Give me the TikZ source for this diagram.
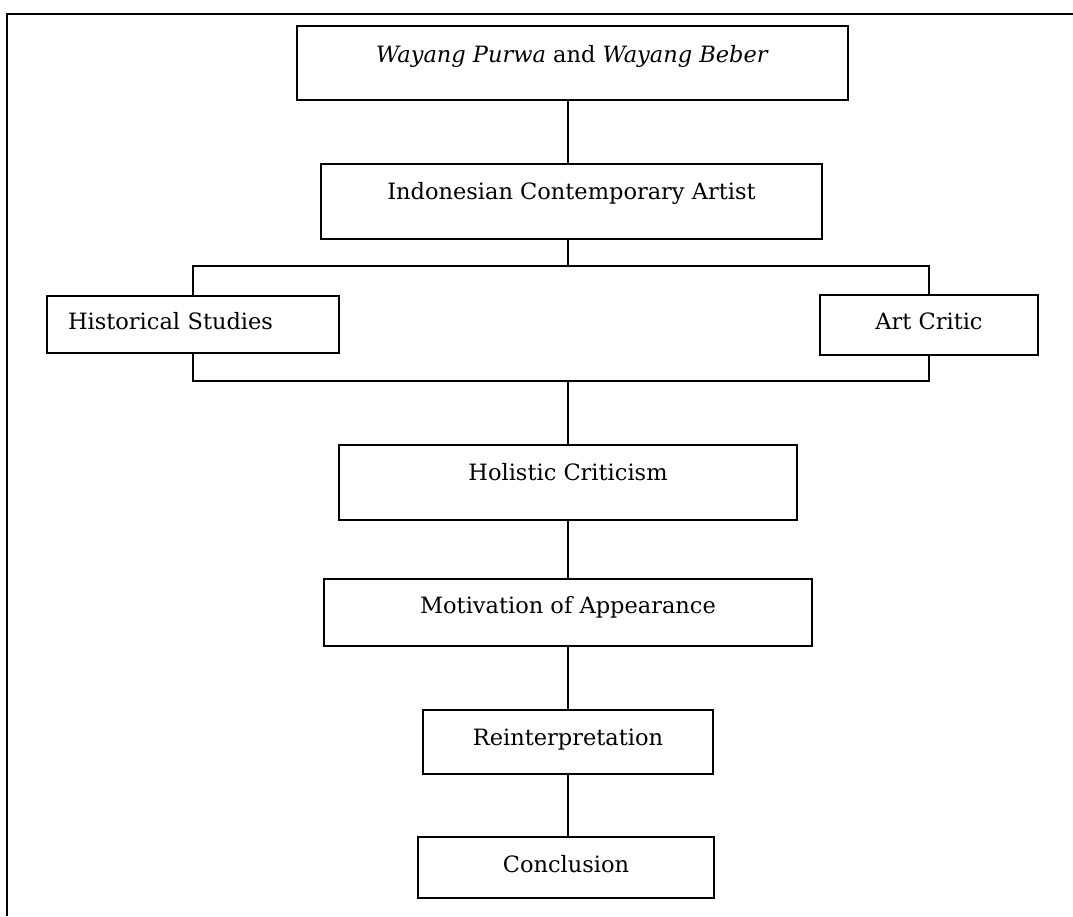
\documentclass[tikz,border=0pt]{standalone}
\usepackage{fontspec}
\setmainfont{DejaVu Serif}

\begin{document}
\begin{tikzpicture}[
  x=1pt, y=-1pt,
  stage/.style={rectangle, draw=black, line width=2.6pt, inner ysep=0pt, text height=16.4pt, font=\fontsize{22.5pt}{27pt}\selectfont},
  link/.style={draw=black, line width=2.3pt},
  frame/.style={draw=black, line width=2.6pt}
]
\useasboundingbox (0,0) rectangle (1073,916);

% Outer frame (top and left edge only)
\draw[frame] (1073,14) -- (7,14) -- (7,916);

% Main column
\node[stage, minimum width=551pt, minimum height=74pt, text depth=17.4pt] (wayang) at (572.5,63) {\textit{Wayang Purwa} and \textit{Wayang Beber}};
\node[stage, minimum width=501pt, minimum height=75pt, text depth=21.4pt] (artist) at (571.5,201.5) {Indonesian Contemporary Artist};

% Branches
\node[stage, minimum height=57pt, text depth=7.4pt, text width=250pt, inner xsep=21pt, align=left] (historical) at (193,324.5) {Historical Studies};
\node[stage, minimum width=218pt, minimum height=60pt, text depth=8.4pt] (critic) at (929,325) {Art Critic};

\coordinate (split) at (568,266);
\coordinate (merge) at (568,381);

\node[stage, minimum width=458pt, minimum height=75pt, text depth=21.4pt] (holistic) at (568,482.5) {Holistic Criticism};
\node[stage, minimum width=488pt, minimum height=67pt, text depth=15.4pt] (motivation) at (568,612.5) {Motivation of Appearance};
\node[stage, minimum width=290pt, minimum height=64pt, text depth=10.4pt] (reinterp) at (568,742) {Reinterpretation};
\node[stage, minimum width=296pt, minimum height=61pt, text depth=7.4pt] (conclusion) at (566,867.5) {Conclusion};

% Connectors
\draw[link] (wayang.south -| split) -- (artist.north -| split);
\draw[link] (artist.south -| split) -- (split);
\draw[link] (historical.north) |- (split) -| (critic.north);
\draw[link] (historical.south) |- (merge) -| (critic.south);
\draw[link] (merge) -- (holistic.north);
\draw[link] (holistic.south) -- (motivation.north);
\draw[link] (motivation.south) -- (reinterp.north);
\draw[link] (reinterp.south -| split) -- (conclusion.north -| split);

\end{tikzpicture}
\end{document}
